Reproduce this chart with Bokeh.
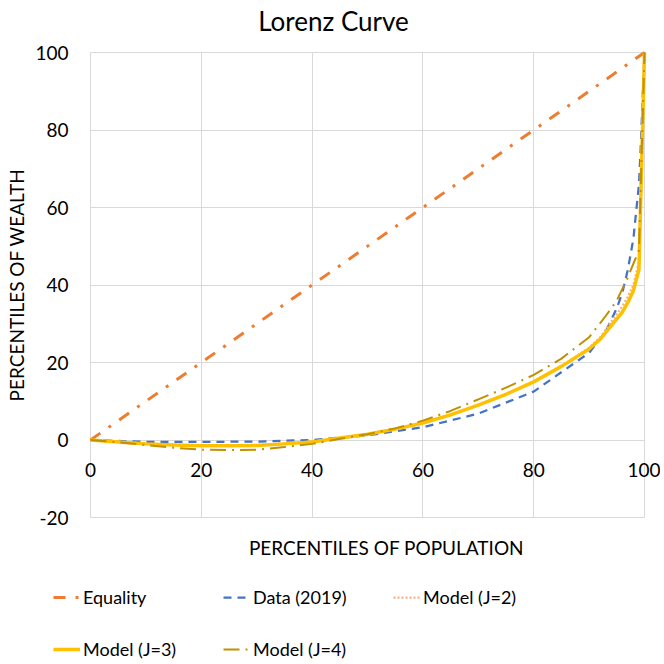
from bokeh.plotting import figure
from bokeh.models import Range1d, FixedTicker, LinearAxis, Legend, LegendItem, Grid, Label
from bokeh.embed import file_html
from bokeh.resources import INLINE

x_ticks = [0, 20, 40, 60, 80, 100]
y_ticks = [-20, 0, 20, 40, 60, 80, 100]
y_tick_text = {-20: "-20"}

eq_x = [0, 100]
eq_y = [0, 100]

data_x = [0, 10, 20, 30, 40, 50, 60, 70, 80, 90, 93, 95, 96, 97, 98, 99, 99.3, 100]
data_y = [0, -0.5, -0.5, -0.4, 0.0, 1.2, 3.3, 6.8, 12.5, 22.5, 28, 34, 38, 44, 52, 66, 75, 100]

j2_x = [0, 5, 10, 15, 20, 25, 30, 35, 40, 45, 50, 55, 60, 65, 70, 75, 80, 85, 90, 92, 94, 96, 97, 98, 99, 100]
j2_y = [0, -0.4, -0.9, -1.2, -1.4, -1.4, -1.3, -0.9, -0.4, 0.5, 1.6, 2.9, 4.5, 6.6, 9.1, 11.9, 15.1, 19.0, 23.8, 26.5, 30.5, 34.5, 37, 40, 46, 100]

j3_x = [0, 5, 10, 15, 20, 25, 30, 35, 40, 45, 50, 55, 60, 65, 70, 75, 80, 85, 90, 92, 94, 96, 97, 98, 99, 100]
j3_y = [0, -0.5, -1.0, -1.3, -1.5, -1.5, -1.4, -1.0, -0.5, 0.5, 1.5, 2.8, 4.4, 6.5, 9.0, 11.8, 15.0, 19.0, 23.5, 26.0, 29.5, 33.0, 35.5, 38.5, 44.0, 100]

j4_x = [0, 5, 10, 15, 20, 25, 30, 35, 40, 45, 50, 55, 60, 65, 70, 75, 80, 85, 90, 93, 95, 97, 98, 99, 100]
j4_y = [0, -0.6, -1.3, -2.0, -2.5, -2.6, -2.5, -1.8, -1.0, 0.3, 1.5, 3.0, 5.0, 7.5, 10.5, 13.5, 16.8, 21.0, 26.5, 32, 36, 42, 45.5, 49, 100]

FONT = "Lato"
GRID = "#D9D9D9"

# ---- layout (pixels inside the canvas; the frame covers the whole canvas) ----
W, H = 660, 660
PX0, PX1 = 90, 644           # screen x of x=0 and x=100
PY_TOP, PY_BOT = 52, 517     # screen y of y=100 and y=-20
TITLE_X, TITLE_Y = 333, 20   # screen position of the title centre
xmin, xmax = x_ticks[0], x_ticks[-1]
ymin, ymax = y_ticks[0], y_ticks[-1]
sx = (xmax - xmin) / (PX1 - PX0)
sy = (ymax - ymin) / (PY_BOT - PY_TOP)
x_range = Range1d(xmin - PX0 * sx, xmax + (W - PX1) * sx)
y_range = Range1d(ymin - (H - PY_BOT) * sy, ymax + PY_TOP * sy)

p = figure(width=W, height=H, output_backend="svg", toolbar_location=None,
           x_range=x_range, y_range=y_range,
           min_border_left=0, min_border_right=0, min_border_bottom=0, min_border_top=0)
p.outline_line_color = None

p.add_layout(Label(x=xmin + (TITLE_X - PX0) * sx, y=ymax + (PY_TOP - TITLE_Y) * sy,
                   text="Lorenz Curve", text_align="center", text_baseline="middle",
                   text_font=FONT, text_font_size="26px", text_color="black"))

# grid restricted to the plot area
p.xgrid.ticker = FixedTicker(ticks=x_ticks)
p.ygrid.ticker = FixedTicker(ticks=y_ticks)
p.grid.grid_line_color = GRID
p.grid.grid_line_width = 1
if "cross_bounds" in Grid.properties():
    p.xgrid.bounds = (xmin, xmax)
    p.xgrid.cross_bounds = (ymin, ymax)
    p.ygrid.bounds = (ymin, ymax)
    p.ygrid.cross_bounds = (xmin, xmax)
else:
    p.grid.visible = False
    p.segment(x0=x_ticks, y0=[ymin] * len(x_ticks), x1=x_ticks, y1=[ymax] * len(x_ticks),
              line_color=GRID, line_width=1)
    p.segment(x0=[xmin] * len(y_ticks), y0=y_ticks, x1=[xmax] * len(y_ticks), y1=y_ticks,
              line_color=GRID, line_width=1)

# x axis crossing at y = 0
xa = p.xaxis[0]
xa.fixed_location = 0
xa.bounds = (xmin, xmax)
xa.ticker = FixedTicker(ticks=x_ticks)
xa.axis_line_color = None
xa.major_tick_line_color = None
xa.minor_tick_line_color = None
xa.major_tick_out = 0
xa.major_tick_in = 0
xa.major_label_standoff = 23
xa.major_label_text_font = FONT
xa.major_label_text_font_size = "19px"
xa.major_label_text_color = "black"

# x axis title below the plot area
lab = LinearAxis(fixed_location=ymin, bounds=(6.8, xmax), ticker=FixedTicker(ticks=[]),
                 axis_label="PERCENTILES OF POPULATION",
                 axis_line_color=None, major_tick_line_color=None, minor_tick_line_color=None,
                 major_tick_out=0, major_tick_in=0, major_label_standoff=0,
                 major_label_text_font_size="0px", axis_label_standoff=18,
                 axis_label_text_font=FONT, axis_label_text_font_size="19px",
                 axis_label_text_font_style="normal", axis_label_text_color="black")
p.add_layout(lab, "below")

# y axis at x = 0
ya = p.yaxis[0]
ya.fixed_location = 0
ya.bounds = (ymin, ymax)
ya.ticker = FixedTicker(ticks=y_ticks)
ya.major_label_overrides = y_tick_text
ya.axis_line_color = None
ya.major_tick_line_color = None
ya.minor_tick_line_color = None
ya.major_tick_out = 0
ya.major_tick_in = 0
ya.major_label_standoff = 22
ya.major_label_text_font = FONT
ya.major_label_text_font_size = "19px"
ya.major_label_text_color = "black"
ya.axis_label = "PERCENTILES OF WEALTH"
ya.axis_label_text_font = FONT
ya.axis_label_text_font_size = "19px"
ya.axis_label_text_font_style = "normal"
ya.axis_label_text_color = "black"
ya.axis_label_standoff = 4

r_eq = p.line(eq_x, eq_y, line_color="#ED7D31", line_width=3, line_dash="12 10 3 10")
r_data = p.line(data_x, data_y, line_color="#4472C4", line_width=2.25, line_dash="8 6")
r_j2 = p.line(j2_x, j2_y, line_color="#F4B183", line_width=2.25, line_dash="2 2")
r_j3 = p.line(j3_x, j3_y, line_color="#FFC000", line_width=3.5)
r_j4 = p.line(j4_x, j4_y, line_color="#BF9000", line_width=2, line_dash="16 6 2 6")

legend = Legend(items=[LegendItem(label="Equality", renderers=[r_eq]),
                       LegendItem(label="Data (2019)", renderers=[r_data]),
                       LegendItem(label="Model (J=2)", renderers=[r_j2]),
                       LegendItem(label="Model (J=3)", renderers=[r_j3]),
                       LegendItem(label="Model (J=4)", renderers=[r_j4])],
                ncols=3, orientation="horizontal", location=(53, 0),
                border_line_color=None, background_fill_alpha=0,
                label_text_font=FONT, label_text_font_size="18px", label_text_color="black",
                glyph_width=27, glyph_height=16, label_height=16, label_width=110,
                label_standoff=3, spacing=30, padding=0, margin=0)
p.add_layout(legend, "center")

open("out.html", "w").write(file_html(p, INLINE))
